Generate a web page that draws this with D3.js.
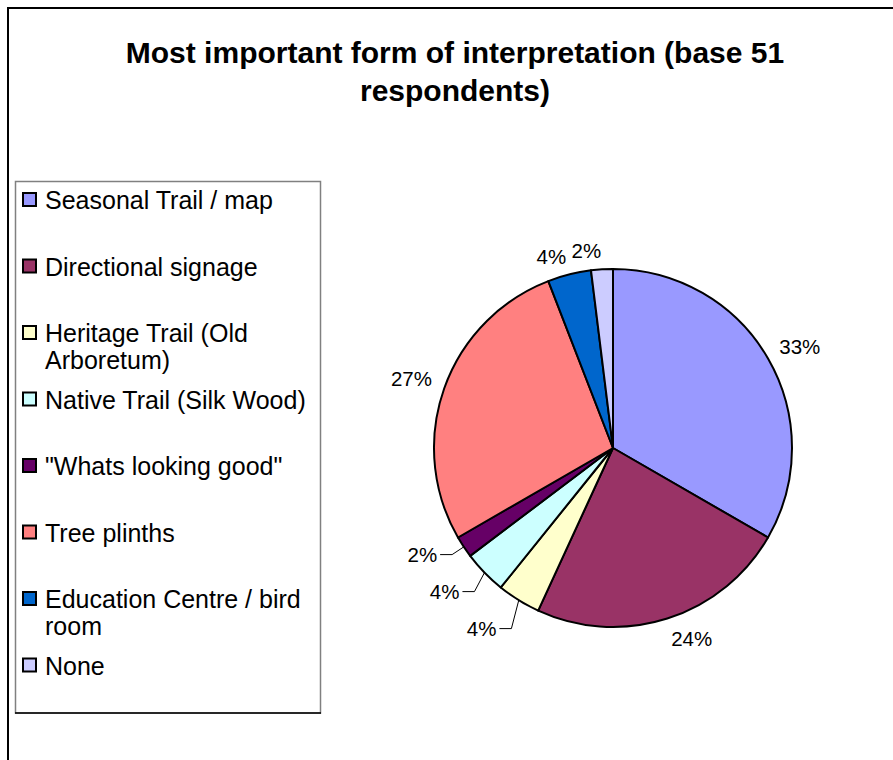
<!DOCTYPE html>
<html>
<head>
<meta charset="utf-8">
<script src="https://cdn.jsdelivr.net/npm/d3@7"></script>
<style>
  html, body { margin: 0; padding: 0; background: #fff; }
  svg { display: block; font-family: "Liberation Sans", Arial, sans-serif; }
</style>
</head>
<body>
<svg id="chart" width="893" height="760"></svg>
<script>
// ---- data ----
const titleLines = ["Most important form of interpretation (base 51", "respondents)"];
const categories = [
  "Seasonal Trail / map",
  "Directional signage",
  "Heritage Trail (Old Arboretum)",
  "Native Trail (Silk Wood)",
  "\"Whats looking good\"",
  "Tree plinths",
  "Education Centre / bird room",
  "None"
];
const counts = [17, 12, 2, 2, 1, 14, 2, 1];
const colors = ["#9999FF", "#993366", "#FFFFCC", "#CCFFFF", "#660066", "#FF8080", "#0066CC", "#CCCCFF"];

// ---- layout ----
const W = 893, H = 760;
const svg = d3.select("#chart");
const cx = 613, cy = 448, R = 179;

// outer chart border (continues beyond the visible area)
svg.append("rect").attr("x", 8).attr("y", 8).attr("width", 1000).attr("height", 1000)
  .attr("fill", "none").attr("stroke", "#000").attr("stroke-width", 2);

// title
svg.append("g").selectAll("text").data(titleLines).join("text")
  .attr("x", 455).attr("y", (d, i) => 63 + i * 38)
  .attr("text-anchor", "middle")
  .attr("font-size", 30).attr("font-weight", "bold").attr("fill", "#000")
  .text(d => d);

// ---- legend ----
const lg = svg.append("g");
lg.append("rect").attr("x", 15.5).attr("y", 181.5).attr("width", 305).attr("height", 531.5)
  .attr("fill", "#fff").attr("stroke", "#808080").attr("stroke-width", 1.5);
lg.append("line").attr("x1", 15).attr("x2", 321).attr("y1", 713).attr("y2", 713)
  .attr("stroke", "#000").attr("stroke-width", 1.5);

const legY = d3.scalePoint().domain(categories).range([200, 665.5]);
const legendItems = lg.selectAll("g.item").data(categories).join("g").attr("class", "item");
legendItems.append("rect")
  .attr("x", 23).attr("y", d => legY(d) - 7).attr("width", 13).attr("height", 13)
  .attr("fill", (d, i) => colors[i]).attr("stroke", "#000").attr("stroke-width", 2);
legendItems.each(function(d) {
  const g = d3.select(this);
  const t = g.append("text").attr("x", 45).attr("y", legY(d) + 9)
    .attr("font-size", 25).attr("fill", "#000");
  const words = d.split(" ");
  let line = [], lineNo = 0;
  let ts = t.append("tspan").attr("x", 45).attr("dy", 0);
  words.forEach(w => {
    line.push(w);
    ts.text(line.join(" "));
    if (ts.node().getComputedTextLength() > 272 && line.length > 1) {
      line.pop();
      ts.text(line.join(" "));
      line = [w];
      lineNo++;
      ts = t.append("tspan").attr("x", 45).attr("dy", 27).text(w);
    }
  });
});

// ---- pie ----
const total = d3.sum(counts);
const data = categories.map((c, i) => ({ name: c, value: counts[i], color: colors[i] }));
const pie = d3.pie().value(d => d.value).sort(null);
const arcs = pie(data);
const arc = d3.arc().innerRadius(0).outerRadius(R);

const pg = svg.append("g").attr("transform", `translate(${cx},${cy})`);
pg.selectAll("path").data(arcs).join("path")
  .attr("d", arc)
  .attr("fill", d => d.data.color)
  .attr("stroke", "#000").attr("stroke-width", 2).attr("stroke-linejoin", "round");

// ---- data labels ----
const pct = d => Math.round(d.value / total * 100) + "%";
const mid = d => (d.startAngle + d.endAngle) / 2;
const labelR = 192;

const lbl = pg.append("g");
// slices that are small and in the lower-left quadrant get leader lines, stacked downward
const leaderArcs = arcs.filter(d => (d.value / total) < 0.05 && mid(d) > Math.PI && mid(d) < 1.5 * Math.PI)
  .sort((a, b) => mid(b) - mid(a));
const normalArcs = arcs.filter(d => !leaderArcs.includes(d));

normalArcs.forEach(d => {
  const a = mid(d);
  const sx = Math.sin(a), sy = -Math.cos(a);
  const px = labelR * sx, py = labelR * sy;
  lbl.append("text")
    .attr("x", px)
    .attr("y", sy > 0 ? py + 15 : py + 2)
    .attr("text-anchor", sx >= 0 ? "start" : "end")
    .attr("font-size", 20.5).attr("fill", "#000")
    .text(pct(d));
});

let prevY = -Infinity;
const gap = 37;
const elbowR = R + 14;
leaderArcs.forEach(d => {
  const a = mid(d);
  const sx = Math.sin(a), sy = -Math.cos(a);
  const ex = elbowR * sx;
  let ey = elbowR * sy;
  if (ey < prevY + gap) ey = prevY + gap;
  prevY = ey;
  const hx = ex - 12;
  lbl.append("polyline")
    .attr("points", `${R * sx},${R * sy} ${ex},${ey} ${hx},${ey}`)
    .attr("fill", "none").attr("stroke", "#000").attr("stroke-width", 1);
  lbl.append("text")
    .attr("x", hx - 3).attr("y", ey + 7.5)
    .attr("text-anchor", "end")
    .attr("font-size", 20.5).attr("fill", "#000")
    .text(pct(d));
});
</script>
</body>
</html>
